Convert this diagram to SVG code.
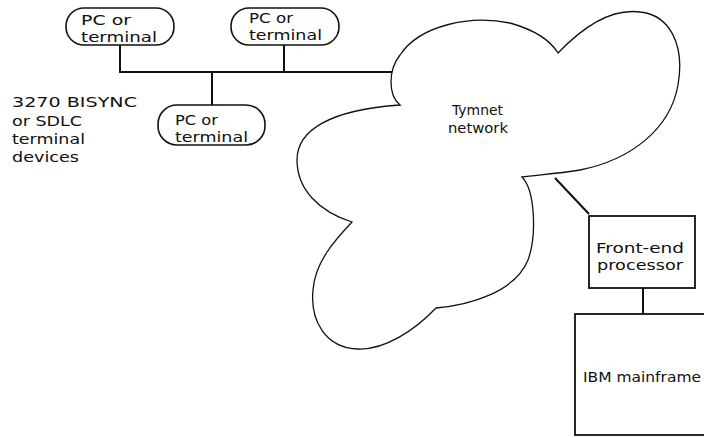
<svg xmlns="http://www.w3.org/2000/svg" width="704" height="438" viewBox="0 0 704 438">
<style>
.t{font-family:"DejaVu Sans","Liberation Sans",sans-serif;font-size:14px;fill:#111}
.pill{fill:#fff;stroke:#111;stroke-width:1.6}
.box{fill:#fff;stroke:#111;stroke-width:1.8}
.ln{fill:none;stroke:#111;stroke-width:2}
.cloud{fill:#fff;stroke:#111;stroke-width:1.3}
</style>
<rect width="704" height="438" fill="#fff"/>
<g id="connectors">
<polyline class="ln" points="120,45 120,72 393,72"/>
<line class="ln" x1="284" y1="45" x2="284" y2="72"/>
<line class="ln" x1="212" y1="72" x2="212" y2="105"/>
<line class="ln" x1="555" y1="178" x2="589" y2="214"/>
<line class="ln" x1="643" y1="288" x2="643" y2="314"/>
</g>
<g id="tymnet">
<path class="cloud" d="M400,105 C388,95 388,70 400,55 C420,25 470,15 510,23 C535,30 550,40 558,53 C580,30 610,8 640,12 C670,15 685,45 678,85 C670,130 630,160 580,170 C555,174 535,175 522,177 C535,190 537,235 528,260 C515,292 470,305 436,308 C415,330 385,350 358,349 C325,348 310,320 313,290 C315,262 335,240 352,222 C320,212 297,190 297,160 C297,130 330,110 400,105 Z"/>
<text class="t" x="452" y="115" textLength="51" lengthAdjust="spacingAndGlyphs">Tymnet</text>
<text class="t" x="448" y="133" textLength="60" lengthAdjust="spacingAndGlyphs">network</text>
</g>
<g id="terminal1">
<rect class="pill" x="66" y="8" width="108" height="37" rx="18"/>
<text class="t" x="81" y="25" textLength="50" lengthAdjust="spacingAndGlyphs">PC or</text>
<text class="t" x="81" y="42" textLength="76" lengthAdjust="spacingAndGlyphs">terminal</text>
</g>
<g id="terminal2">
<rect class="pill" x="231" y="8" width="108" height="37" rx="18"/>
<text class="t" x="249" y="23" textLength="44" lengthAdjust="spacingAndGlyphs">PC or</text>
<text class="t" x="249" y="40" textLength="73" lengthAdjust="spacingAndGlyphs">terminal</text>
</g>
<g id="terminal3">
<rect class="pill" x="158" y="105" width="107" height="40" rx="19"/>
<text class="t" x="175" y="125" textLength="43" lengthAdjust="spacingAndGlyphs">PC or</text>
<text class="t" x="175" y="142" textLength="73" lengthAdjust="spacingAndGlyphs">terminal</text>
</g>
<g id="label">
<text class="t" x="12" y="107" textLength="125" lengthAdjust="spacingAndGlyphs">3270 BISYNC</text>
<text class="t" x="12" y="126" textLength="70" lengthAdjust="spacingAndGlyphs">or SDLC</text>
<text class="t" x="12" y="144" textLength="73" lengthAdjust="spacingAndGlyphs">terminal</text>
<text class="t" x="12" y="162" textLength="67" lengthAdjust="spacingAndGlyphs">devices</text>
</g>
<g id="frontend">
<rect class="box" x="589" y="216" width="106" height="72"/>
<text class="t" x="596" y="253" textLength="88" lengthAdjust="spacingAndGlyphs">Front-end</text>
<text class="t" x="597" y="270" textLength="86" lengthAdjust="spacingAndGlyphs">processor</text>
</g>
<g id="mainframe">
<rect class="box" x="575" y="314" width="160" height="121"/>
<text class="t" x="583" y="382" textLength="118" lengthAdjust="spacingAndGlyphs">IBM mainframe</text>
</g>
</svg>
